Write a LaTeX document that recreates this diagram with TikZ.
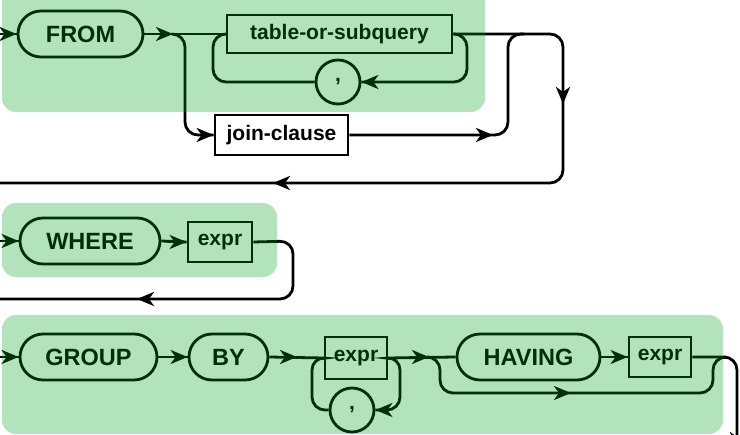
\documentclass[tikz,border=0pt]{standalone}
\usepackage{fontspec}
\setmainfont{Liberation Sans}
\usetikzlibrary{arrows.meta,calc}
\tikzset{
  ln/.style={line width=2.8pt, black, rounded corners=13pt},
  tip/.style={line width=2.8pt, black, -{Stealth[length=17pt,width=14pt,inset=5pt]}},
  kw/.style={draw, line width=2.8pt, rounded corners=23pt, minimum height=46pt, inner sep=0pt,
             font=\fontsize{23.5}{26}\selectfont\bfseries},
  idf/.style={draw, line width=2.8pt, minimum height=40pt, inner sep=0pt,
             font=\fontsize{21}{24}\selectfont\bfseries},
  comma/.style={draw, line width=2.8pt, circle, minimum size=44pt, inner sep=0pt,
             font=\fontsize{21}{24}\selectfont\bfseries},
  region/.style={fill={rgb,1:red,0;green,0.63;blue,0.1}, fill opacity=0.3, rounded corners=14pt},
}
\begin{document}
\begin{tikzpicture}[x=1pt,y=-1pt]
\useasboundingbox (0,0) rectangle (740,435);
% ---------- row 1 : FROM
\coordinate (in1) at (0,34);
\node[kw, minimum width=125pt] (from) at (80.5,34) {FROM};
\coordinate (j1) at (173,34);
\node[idf, minimum width=225pt, minimum height=38pt] (tos) at (339.5,34) {table-or-subquery};
\node[comma] (c1) at (338,82) {,};
\node[idf, minimum width=133pt, fill=white] (join) at (281.5,135) {join-clause};
\coordinate (j2) at (493,135);
\coordinate (j3) at (563,104);
\coordinate (j4) at (273,183);
\coordinate (out1) at (0,183);
\draw[ln] (in1) -- (from.west);
\draw[tip] ($(from.west)+(-20,0)$) -- (from.west);
\draw[ln] (from.east) -- (tos.west);
\draw[tip] ($(j1)+(-20,0)$) -- (j1);
\draw[ln] (tos.east) -- (467,34) -- (467,82) -- (c1.east);
\draw[tip] ($(c1.east)+(20,0)$) -- (c1.east);
\draw[ln] (c1.west) -- (213,82) -- (213,34) -- (tos.west);
\draw[ln] (j1) -- (185,34) -- (185,135) -- (join.west);
\draw[tip] ($(join.west)+(-20,0)$) -- (join.west);
\draw[ln] (join.east) -- (508,135) -- (508,34) -- (524,34);
\draw[tip] ($(j2)+(-20,0)$) -- (j2);
\draw[ln] (tos.east) -- (563,34) -- (563,183) -- (out1);
\draw[tip] ($(j3)+(0,-20)$) -- (j3);
\draw[tip] ($(j4)+(20,0)$) -- (j4);
% ---------- row 2 : WHERE
\coordinate (in2) at (0,241);
\node[kw, minimum width=140pt] (where) at (90,241) {WHERE};
\node[idf, minimum width=64pt] (e1) at (220,242) {expr};
\coordinate (j5) at (137,299);
\coordinate (out2) at (0,299);
\draw[ln] (in2) -- (where.west);
\draw[tip] ($(where.west)+(-20,0)$) -- (where.west);
\draw[ln] (where.east) -- (e1.west);
\draw[tip] ($(e1.west)+(-20,0)$) -- (e1.west);
\draw[ln] (e1.east) -- (293,241) -- (293,299) -- (out2);
\draw[tip] ($(j5)+(20,0)$) -- (j5);
% ---------- row 3 : GROUP BY
\coordinate (in3) at (0,357);
\node[kw, minimum width=137pt] (group) at (88.5,357) {GROUP};
\node[kw, minimum width=79pt] (by) at (228.5,357) {BY};
\coordinate (j6) at (297,357);
\node[idf, minimum width=62pt, minimum height=42pt] (e2) at (356,358) {expr};
\node[comma] (c2) at (352,410) {,};
\coordinate (j7) at (429,357);
\node[kw, minimum width=143pt] (having) at (528.5,357) {HAVING};
\node[idf, minimum width=62pt] (e3) at (660,357) {expr};
\coordinate (j8) at (571,393);
\coordinate (out3) at (737,449);
\draw[ln] (in3) -- (group.west);
\draw[tip] ($(group.west)+(-20,0)$) -- (group.west);
\draw[ln] (group.east) -- (by.west);
\draw[tip] ($(by.west)+(-20,0)$) -- (by.west);
\draw[ln] (by.east) -- (e2.west);
\draw[tip] ($(j6)+(-20,0)$) -- (j6);
\draw[ln] (e2.east) -- (400,357) -- (400,410) -- (c2.east);
\draw[tip] ($(c2.east)+(13,0)$) -- (c2.east);
\draw[ln] (c2.west) -- (312,410) -- (312,357) -- (e2.west);
\draw[ln] (e2.east) -- (having.west);
\draw[tip] ($(j7)+(-20,0)$) -- (j7);
\draw[ln] (j7) -- (440,357) -- (440,393) -- (713,393) -- (713,357) -- (726,357);
\draw[tip] ($(j8)+(-20,0)$) -- (j8);
\draw[ln] (having.east) -- (e3.west);
\draw[tip] ($(e3.west)+(-20,0)$) -- (e3.west);
\draw[ln] (e3.east) -- (737,357) -- (737,440);
\draw[tip] ($(out3)+(0,-20)$) -- (out3);
% ---------- translucent green groups
\fill[region] (2,-20) rectangle (485,112);
\fill[region] (2,203) rectangle (277,277);
\fill[region] (2,315) rectangle (723,434);
\end{tikzpicture}
\end{document}
